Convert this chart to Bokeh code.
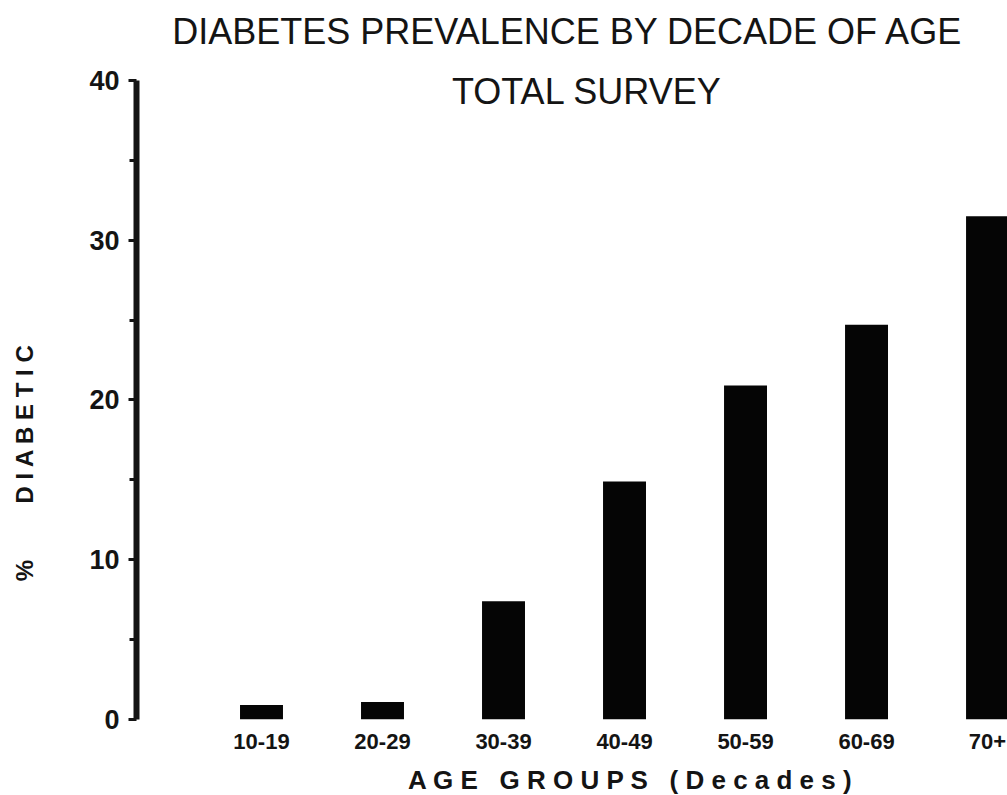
import math
from bokeh.plotting import figure
from bokeh.layouts import row
from bokeh.models import ColumnDataSource, Range1d, FixedTicker, Label
from bokeh.embed import file_html
from bokeh.resources import INLINE

# ---- data ----
categories = ["10-19", "20-29", "30-39", "40-49", "50-59", "60-69", "70+"]
prevalence = [0.9, 1.1, 7.4, 14.9, 20.9, 24.7, 31.5]
y_ticks = [0, 10, 20, 30, 40]
y_minor_ticks = [5, 15, 25, 35]
title_line1 = "DIABETES PREVALENCE BY DECADE OF AGE"
title_line2 = "TOTAL SURVEY"
x_title = "A G E\u00a0\u00a0 G R O U P S\u00a0\u00a0 ( D e c a d e s )"
y_title_pct = "%"
y_title = "D I A B E T I C"

positions = list(range(1, len(categories) + 1))
src = ColumnDataSource(dict(x=positions, top=prevalence, cat=categories))

INK = "#141414"
FONT = "Liberation Sans"

W, H = 1007, 795
FRAME_BOTTOM = 719

# ---- narrow strip holding the vertical y-axis title ----
LAB_W = 40
p_lab = figure(width=LAB_W, height=H, output_backend="svg", toolbar_location=None,
               x_range=Range1d(0, LAB_W), y_range=Range1d(H - FRAME_BOTTOM, H),
               x_axis_type=None, y_axis_type=None,
               min_border=0, min_border_left=0, min_border_right=0,
               min_border_top=0, min_border_bottom=H - FRAME_BOTTOM)
p_lab.outline_line_color = None
p_lab.grid.visible = False
p_lab.add_layout(Label(x=24, y=H - 423, text=y_title, angle=math.pi / 2,
                       text_align="center", text_baseline="middle",
                       text_font=FONT, text_font_style="bold",
                       text_font_size="24px", text_color=INK))
p_lab.add_layout(Label(x=24, y=H - 570, text=y_title_pct, angle=math.pi / 2,
                       text_align="center", text_baseline="middle",
                       text_font=FONT, text_font_style="bold",
                       text_font_size="24px", text_color=INK))

# ---- main chart ----
p = figure(width=W - LAB_W, height=H, output_backend="svg", toolbar_location=None,
           x_range=Range1d(-0.033, 7.165), y_range=Range1d(0, 45.0),
           min_border_left=136 - LAB_W, min_border_right=0, min_border_top=0,
           min_border_bottom=H - FRAME_BOTTOM)
p.background_fill_color = "white"
p.border_fill_color = "white"
p.outline_line_color = None
p.xgrid.visible = False
p.ygrid.visible = False

p.vbar(x="x", top="top", bottom=0, width=0.355, source=src,
       fill_color="#050505", line_color=None)

# y axis
ya = p.yaxis[0]
ya.ticker = FixedTicker(ticks=y_ticks, minor_ticks=y_minor_ticks)
ya.bounds = (0, 40)
ya.axis_line_width = 6
ya.axis_line_color = INK
ya.major_tick_out = 8
ya.major_tick_in = 0
ya.minor_tick_out = 7
ya.minor_tick_in = 0
ya.major_tick_line_width = 3
ya.minor_tick_line_width = 3
ya.major_tick_line_color = INK
ya.minor_tick_line_color = INK
ya.major_label_standoff = 9
ya.major_label_text_font = FONT
ya.major_label_text_font_style = "bold"
ya.major_label_text_font_size = "27px"
ya.major_label_text_color = INK

# x axis
xa = p.xaxis[0]
xa.ticker = FixedTicker(ticks=positions, minor_ticks=[])
xa.major_label_overrides = {pos: cat for pos, cat in zip(positions, categories)}
xa.axis_line_color = None
xa.major_tick_line_color = None
xa.minor_tick_line_color = None
xa.major_tick_out = 0
xa.major_tick_in = 0
xa.major_label_standoff = 14
xa.major_label_text_font = FONT
xa.major_label_text_font_style = "bold"
xa.major_label_text_font_size = "22px"
xa.major_label_text_color = INK

# x-axis title, placed in the bottom panel (not clipped to the frame)
p.add_layout(Label(x=4.05, y=-3.76, text=x_title, text_align="center",
                   text_baseline="alphabetic", text_font=FONT,
                   text_font_style="bold", text_font_size="26px",
                   text_color=INK), "below")

# chart titles
p.add_layout(Label(x=3.533, y=43.07, text=title_line1, text_align="center",
                   text_baseline="alphabetic", text_font=FONT,
                   text_font_size="36px", text_color=INK))
p.add_layout(Label(x=3.69, y=39.31, text=title_line2, text_align="center",
                   text_baseline="alphabetic", text_font=FONT,
                   text_font_size="36px", text_color=INK))

layout = row(p_lab, p)
open("out.html", "w").write(file_html(layout, INLINE))
